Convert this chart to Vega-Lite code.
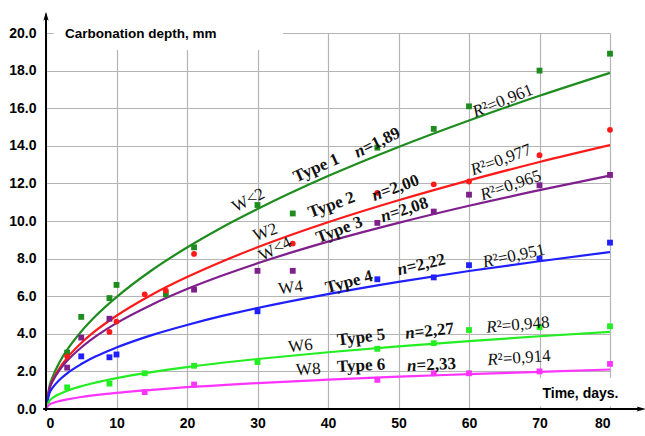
{
  "$schema": "https://vega.github.io/schema/vega-lite/v6.json",
  "width": 564,
  "height": 376,
  "autosize": {"type": "none"},
  "padding": {"left": 46, "top": 33, "right": 35, "bottom": 27},
  "background": "white",
  "data": {"values": [{}]},
  "config": {"view": {"stroke": null}, "axis": {"title": null}},
  "datasets": {
    "fit": [
      {"s":"Type 1","t":0,"d":0},{"s":"Type 1","t":0.5,"d":1.22},{"s":"Type 1","t":1,"d":1.76},{"s":"Type 1","t":2,"d":2.54},{"s":"Type 1","t":3,"d":3.15},{"s":"Type 1","t":5,"d":4.12},{"s":"Type 1","t":7,"d":4.93},{"s":"Type 1","t":10,"d":5.95},{"s":"Type 1","t":15,"d":7.38},{"s":"Type 1","t":20,"d":8.59},{"s":"Type 1","t":25,"d":9.67},{"s":"Type 1","t":30,"d":10.64},{"s":"Type 1","t":40,"d":12.39},{"s":"Type 1","t":50,"d":13.94},{"s":"Type 1","t":60,"d":15.35},{"s":"Type 1","t":70,"d":16.66},{"s":"Type 1","t":80,"d":17.88},
      {"s":"Type 2","t":0,"d":0},{"s":"Type 2","t":0.5,"d":1.11},{"s":"Type 2","t":1,"d":1.57},{"s":"Type 2","t":2,"d":2.22},{"s":"Type 2","t":3,"d":2.72},{"s":"Type 2","t":5,"d":3.51},{"s":"Type 2","t":7,"d":4.15},{"s":"Type 2","t":10,"d":4.96},{"s":"Type 2","t":15,"d":6.08},{"s":"Type 2","t":20,"d":7.02},{"s":"Type 2","t":25,"d":7.85},{"s":"Type 2","t":30,"d":8.6},{"s":"Type 2","t":40,"d":9.93},{"s":"Type 2","t":50,"d":11.1},{"s":"Type 2","t":60,"d":12.16},{"s":"Type 2","t":70,"d":13.14},{"s":"Type 2","t":80,"d":14.04},
      {"s":"Type 3","t":0,"d":0},{"s":"Type 3","t":0.5,"d":1.08},{"s":"Type 3","t":1,"d":1.51},{"s":"Type 3","t":2,"d":2.11},{"s":"Type 3","t":3,"d":2.56},{"s":"Type 3","t":5,"d":3.27},{"s":"Type 3","t":7,"d":3.85},{"s":"Type 3","t":10,"d":4.57},{"s":"Type 3","t":15,"d":5.55},{"s":"Type 3","t":20,"d":6.38},{"s":"Type 3","t":25,"d":7.1},{"s":"Type 3","t":30,"d":7.75},{"s":"Type 3","t":40,"d":8.9},{"s":"Type 3","t":50,"d":9.9},{"s":"Type 3","t":60,"d":10.81},{"s":"Type 3","t":70,"d":11.64},{"s":"Type 3","t":80,"d":12.42},
      {"s":"Type 4","t":0,"d":0},{"s":"Type 4","t":0.5,"d":0.85},{"s":"Type 4","t":1,"d":1.16},{"s":"Type 4","t":2,"d":1.58},{"s":"Type 4","t":3,"d":1.9},{"s":"Type 4","t":5,"d":2.39},{"s":"Type 4","t":7,"d":2.79},{"s":"Type 4","t":10,"d":3.27},{"s":"Type 4","t":15,"d":3.93},{"s":"Type 4","t":20,"d":4.47},{"s":"Type 4","t":25,"d":4.95},{"s":"Type 4","t":30,"d":5.37},{"s":"Type 4","t":40,"d":6.11},{"s":"Type 4","t":50,"d":6.76},{"s":"Type 4","t":60,"d":7.34},{"s":"Type 4","t":70,"d":7.86},{"s":"Type 4","t":80,"d":8.35},
      {"s":"Type 5","t":0,"d":0},{"s":"Type 5","t":0.5,"d":0.44},{"s":"Type 5","t":1,"d":0.6},{"s":"Type 5","t":2,"d":0.81},{"s":"Type 5","t":3,"d":0.97},{"s":"Type 5","t":5,"d":1.21},{"s":"Type 5","t":7,"d":1.4},{"s":"Type 5","t":10,"d":1.64},{"s":"Type 5","t":15,"d":1.96},{"s":"Type 5","t":20,"d":2.23},{"s":"Type 5","t":25,"d":2.46},{"s":"Type 5","t":30,"d":2.66},{"s":"Type 5","t":40,"d":3.02},{"s":"Type 5","t":50,"d":3.33},{"s":"Type 5","t":60,"d":3.61},{"s":"Type 5","t":70,"d":3.87},{"s":"Type 5","t":80,"d":4.1},
      {"s":"Type 6","t":0,"d":0},{"s":"Type 6","t":0.5,"d":0.24},{"s":"Type 6","t":1,"d":0.32},{"s":"Type 6","t":2,"d":0.43},{"s":"Type 6","t":3,"d":0.51},{"s":"Type 6","t":5,"d":0.64},{"s":"Type 6","t":7,"d":0.74},{"s":"Type 6","t":10,"d":0.86},{"s":"Type 6","t":15,"d":1.02},{"s":"Type 6","t":20,"d":1.16},{"s":"Type 6","t":25,"d":1.27},{"s":"Type 6","t":30,"d":1.38},{"s":"Type 6","t":40,"d":1.56},{"s":"Type 6","t":50,"d":1.72},{"s":"Type 6","t":60,"d":1.85},{"s":"Type 6","t":70,"d":1.98},{"s":"Type 6","t":80,"d":2.1}
    ],
    "obs": [
      {"s":"Type 1","t":3,"d":3.0},{"s":"Type 1","t":5,"d":4.9},{"s":"Type 1","t":9,"d":5.9},{"s":"Type 1","t":10,"d":6.6},{"s":"Type 1","t":17,"d":6.1},{"s":"Type 1","t":21,"d":8.6},{"s":"Type 1","t":30,"d":10.85},{"s":"Type 1","t":35,"d":10.4},{"s":"Type 1","t":47,"d":13.9},{"s":"Type 1","t":55,"d":14.9},{"s":"Type 1","t":60,"d":16.1},{"s":"Type 1","t":70,"d":18.0},{"s":"Type 1","t":80,"d":18.9},
      {"s":"Type 2","t":3,"d":2.8},{"s":"Type 2","t":9,"d":4.1},{"s":"Type 2","t":10,"d":4.65},{"s":"Type 2","t":14,"d":6.1},{"s":"Type 2","t":17,"d":6.3},{"s":"Type 2","t":21,"d":8.25},{"s":"Type 2","t":35,"d":8.8},{"s":"Type 2","t":47,"d":11.5},{"s":"Type 2","t":55,"d":11.95},{"s":"Type 2","t":60,"d":12.1},{"s":"Type 2","t":70,"d":13.5},{"s":"Type 2","t":80,"d":14.85},
      {"s":"Type 3","t":3,"d":2.2},{"s":"Type 3","t":5,"d":3.8},{"s":"Type 3","t":9,"d":4.8},{"s":"Type 3","t":21,"d":6.35},{"s":"Type 3","t":30,"d":7.35},{"s":"Type 3","t":35,"d":7.35},{"s":"Type 3","t":47,"d":9.9},{"s":"Type 3","t":55,"d":10.5},{"s":"Type 3","t":60,"d":11.4},{"s":"Type 3","t":70,"d":11.9},{"s":"Type 3","t":80,"d":12.45},
      {"s":"Type 4","t":5,"d":2.8},{"s":"Type 4","t":9,"d":2.75},{"s":"Type 4","t":10,"d":2.9},{"s":"Type 4","t":30,"d":5.2},{"s":"Type 4","t":47,"d":6.9},{"s":"Type 4","t":55,"d":7.0},{"s":"Type 4","t":60,"d":7.65},{"s":"Type 4","t":70,"d":8.0},{"s":"Type 4","t":80,"d":8.85},
      {"s":"Type 5","t":3,"d":1.15},{"s":"Type 5","t":9,"d":1.35},{"s":"Type 5","t":14,"d":1.9},{"s":"Type 5","t":21,"d":2.3},{"s":"Type 5","t":30,"d":2.5},{"s":"Type 5","t":47,"d":3.2},{"s":"Type 5","t":55,"d":3.5},{"s":"Type 5","t":60,"d":4.2},{"s":"Type 5","t":70,"d":4.35},{"s":"Type 5","t":80,"d":4.4},
      {"s":"Type 6","t":14,"d":0.9},{"s":"Type 6","t":21,"d":1.3},{"s":"Type 6","t":47,"d":1.55},{"s":"Type 6","t":55,"d":1.9},{"s":"Type 6","t":60,"d":1.9},{"s":"Type 6","t":70,"d":2.0},{"s":"Type 6","t":80,"d":2.4}
    ],
    "labels": [
      {"kind":"W","k":1,"a":"W<2","x":28.7,"y":11.1},
      {"kind":"W","k":2,"a":"W2","x":31.1,"y":9.4},
      {"kind":"W","k":3,"a":"W<4","x":32.5,"y":8.5},
      {"kind":"W","k":4,"a":"W4","x":34.7,"y":6.45},
      {"kind":"W","k":5,"a":"W6","x":36.1,"y":3.35},
      {"kind":"W","k":6,"a":"W8","x":37.2,"y":2.1},
      {"kind":"T","k":7,"a":"Type 1","x":38.35,"y":12.82},
      {"kind":"T","k":8,"a":"Type 2","x":40.5,"y":10.85},
      {"kind":"T","k":9,"a":"Type 3","x":41.6,"y":9.52},
      {"kind":"T","k":10,"a":"Type 4","x":43.0,"y":6.75},
      {"kind":"T","k":11,"a":"Type 5","x":44.7,"y":3.8},
      {"kind":"T","k":12,"a":"Type 6","x":44.7,"y":2.3},
      {"kind":"N","k":13,"a":"n","b":"=1,89","x":45.08,"y":13.81},
      {"kind":"N","k":14,"a":"n","b":"=2,00","x":47.57,"y":11.48},
      {"kind":"N","k":15,"a":"n","b":"=2,08","x":48.82,"y":10.34},
      {"kind":"N","k":16,"a":"n","b":"=2,22","x":51.18,"y":7.49},
      {"kind":"N","k":17,"a":"n","b":"=2,27","x":52.29,"y":4.06},
      {"kind":"N","k":18,"a":"n","b":"=2,33","x":52.56,"y":2.3},
      {"kind":"R","k":19,"a":"R","b":"²=0,961","x":62.0,"y":15.96},
      {"kind":"R","k":20,"a":"R","b":"²=0,977","x":61.7,"y":12.86},
      {"kind":"R","k":21,"a":"R","b":"²=0,965","x":63.07,"y":11.52},
      {"kind":"R","k":22,"a":"R","b":"²=0,951","x":63.42,"y":7.9},
      {"kind":"R","k":23,"a":"R","b":"²=0,948","x":63.93,"y":4.37},
      {"kind":"R","k":24,"a":"R","b":"²=0,914","x":64.08,"y":2.63}
    ]
  },
  "layer": [
    {
      "data": {"name": "fit"},
      "mark": {"type": "line", "interpolate": "monotone", "strokeWidth": 2.2},
      "encoding": {
        "x": {"field": "t", "type": "quantitative",
          "scale": {"domain": [0, 80], "nice": false, "zero": false},
          "axis": {"values": [0,10,20,30,40,50,60,70,80], "tickCount": 20, "grid": true, "gridColor": "#b4b4b4", "gridWidth": 1.2, "domain": false, "ticks": false, "labelOverlap": false, "labelFont": "Liberation Sans", "labelFontWeight": "bold", "labelFontSize": 14, "labelColor": "#000000", "labelPadding": 7, "title": null}},
        "y": {"field": "d", "type": "quantitative",
          "scale": {"domain": [0, 20], "nice": false, "zero": false},
          "axis": {"values": [0,2,4,6,8,10,12,14,16,18,20], "tickCount": 20, "format": ".1f", "grid": true, "gridColor": "#b4b4b4", "gridWidth": 1.2, "domain": false, "ticks": false, "labelOverlap": false, "labelFont": "Liberation Sans", "labelFontWeight": "bold", "labelFontSize": 14, "labelColor": "#000000", "labelPadding": 10, "title": null}},
        "color": {"field": "s", "type": "nominal",
          "scale": {"domain": ["Type 1","Type 2","Type 3","Type 4","Type 5","Type 6"], "range": ["#1e8c1e","#ff1a1a","#7f1f8c","#1f1fff","#22ee22","#ff33ff"]},
          "legend": null},
        "detail": {"field": "s"}
      }
    },
    {
      "mark": {"type": "rect", "color": "white"},
      "encoding": {"x": {"datum": 1.1}, "x2": {"datum": 33.6}, "y": {"datum": 19.1}, "y2": {"datum": 20.8}}
    },
    {
      "mark": {"type": "rect", "color": "white"},
      "encoding": {"x": {"datum": 64.5}, "x2": {"datum": 83}, "y": {"datum": 0.15}, "y2": {"datum": 1.65}}
    },
    {
      "data": {"name": "obs"},
      "mark": {"type": "point", "filled": true, "opacity": 1, "size": 34},
      "encoding": {
        "x": {"field": "t", "type": "quantitative"},
        "y": {"field": "d", "type": "quantitative"},
        "color": {"field": "s", "type": "nominal", "legend": null},
        "shape": {"field": "s", "type": "nominal",
          "scale": {"domain": ["Type 1","Type 2","Type 3","Type 4","Type 5","Type 6"], "range": ["square","circle","square","square","square","square"]},
          "legend": null}
      }
    },
    {
      "mark": {"type": "rule", "color": "black", "strokeWidth": 2},
      "encoding": {"x": {"datum": 0}, "y": {"datum": -0.1}, "y2": {"datum": 21.0}}
    },
    {
      "mark": {"type": "rule", "color": "black", "strokeWidth": 2},
      "encoding": {"x": {"datum": -0.4}, "x2": {"datum": 84.3}, "y": {"datum": 0}}
    },
    {
      "mark": {"type": "point", "filled": true, "color": "black", "opacity": 1, "size": 110, "shape": "M0,-1 L0.5,0.7 L0,0.35 L-0.5,0.7 Z"},
      "encoding": {"x": {"datum": 0}, "y": {"datum": 20.85}}
    },
    {
      "mark": {"type": "point", "filled": true, "color": "black", "opacity": 1, "size": 110, "shape": "M1,0 L-0.7,0.5 L-0.35,0 L-0.7,-0.5 Z"},
      "encoding": {"x": {"datum": 84.3}, "y": {"datum": 0}}
    },
    {
      "mark": {"type": "text", "text": "Carbonation depth, mm", "align": "left", "baseline": "middle", "font": "Liberation Sans", "fontWeight": "bold", "fontSize": 13.5, "color": "#000000"},
      "encoding": {"x": {"datum": 2.7}, "y": {"datum": 19.95}}
    },
    {
      "mark": {"type": "text", "text": "Time, days.", "align": "right", "baseline": "middle", "font": "Liberation Sans", "fontWeight": "bold", "fontSize": 14, "color": "#000000"},
      "encoding": {"x": {"datum": 81.2}, "y": {"datum": 0.8}}
    },
    {
      "data": {"name": "labels"},
      "transform": [{"filter": "datum.kind === 'W'"}],
      "mark": {"type": "text", "align": "center", "baseline": "middle", "font": "Liberation Serif", "fontSize": 17, "color": "#111111"},
      "encoding": {
        "x": {"field": "x", "type": "quantitative"},
        "y": {"field": "y", "type": "quantitative"},
        "text": {"field": "a"},
        "angle": {"field": "k", "type": "quantitative", "scale": {"domain": [1,2,3,4,5,6,7,8,9,10,11,12,13,14,15,16,17,18,19,20,21,22,23,24], "range": [-27,-20,-27,-7,-6,-4,-24,-20,-21,-15,-7,-3,-26,-20,-18,-13,-6,-3,-22,-20,-19,-12,-5,-4]}}
      }
    },
    {
      "data": {"name": "labels"},
      "transform": [{"filter": "datum.kind === 'T'"}],
      "mark": {"type": "text", "align": "center", "baseline": "middle", "font": "Liberation Serif", "fontSize": 17, "fontWeight": "bold", "color": "#111111"},
      "encoding": {
        "x": {"field": "x", "type": "quantitative"},
        "y": {"field": "y", "type": "quantitative"},
        "text": {"field": "a"},
        "angle": {"field": "k", "type": "quantitative"}
      }
    },
    {
      "data": {"name": "labels"},
      "transform": [{"filter": "datum.kind === 'N'"}],
      "mark": {"type": "text", "align": "right", "baseline": "middle", "font": "Liberation Serif", "fontSize": 17, "fontWeight": "bold", "fontStyle": "italic", "color": "#111111"},
      "encoding": {
        "x": {"field": "x", "type": "quantitative"},
        "y": {"field": "y", "type": "quantitative"},
        "text": {"field": "a"},
        "angle": {"field": "k", "type": "quantitative"}
      }
    },
    {
      "data": {"name": "labels"},
      "transform": [{"filter": "datum.kind === 'N'"}],
      "mark": {"type": "text", "align": "left", "baseline": "middle", "font": "Liberation Serif", "fontSize": 17, "fontWeight": "bold", "color": "#111111"},
      "encoding": {
        "x": {"field": "x", "type": "quantitative"},
        "y": {"field": "y", "type": "quantitative"},
        "text": {"field": "b"},
        "angle": {"field": "k", "type": "quantitative"}
      }
    },
    {
      "data": {"name": "labels"},
      "transform": [{"filter": "datum.kind === 'R'"}],
      "mark": {"type": "text", "align": "right", "baseline": "middle", "font": "Liberation Serif", "fontSize": 17, "fontStyle": "italic", "color": "#111111"},
      "encoding": {
        "x": {"field": "x", "type": "quantitative"},
        "y": {"field": "y", "type": "quantitative"},
        "text": {"field": "a"},
        "angle": {"field": "k", "type": "quantitative"}
      }
    },
    {
      "data": {"name": "labels"},
      "transform": [{"filter": "datum.kind === 'R'"}],
      "mark": {"type": "text", "align": "left", "baseline": "middle", "font": "Liberation Serif", "fontSize": 17, "color": "#111111"},
      "encoding": {
        "x": {"field": "x", "type": "quantitative"},
        "y": {"field": "y", "type": "quantitative"},
        "text": {"field": "b"},
        "angle": {"field": "k", "type": "quantitative"}
      }
    }
  ]
}
